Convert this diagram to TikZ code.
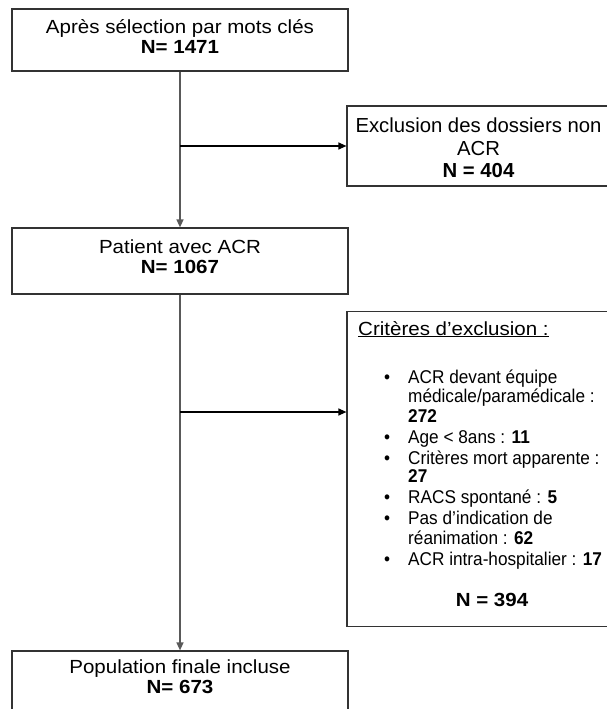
\documentclass[tikz,border=0pt]{standalone}
\usepackage{fontspec}
\setmainfont{Liberation Sans}[FakeStretch=1.08]
\newfontfamily\plainsans{Liberation Sans}
\newfontfamily\narrowsans{Liberation Sans}[FakeStretch=0.93]
\usetikzlibrary{arrows.meta}
\begin{document}
\begin{tikzpicture}[x=1pt,y=-1pt,
  box/.style={draw=black!80, line width=1.2pt, rectangle, inner sep=0pt},
  txt/.style={align=center, inner sep=0pt, font=\fontsize{19}{20}\selectfont},
  bigtxt/.style={align=center, inner sep=0pt, font=\plainsans\fontsize{20.3}{22.7}\selectfont},
  head/.style={anchor=base west, inner sep=0pt, font=\fontsize{19}{20}\selectfont},
  item/.style={anchor=base west, inner sep=0pt, font=\narrowsans\fontsize{18.5}{20}\selectfont},
  trunk/.style={draw=black!65, line width=1.4pt},
  branch/.style={draw=black, line width=1.2pt},
  tip/.style={-{Triangle[length=8pt,width=7pt]}}]
\useasboundingbox (0,0) rectangle (607,709);

% main column
\node[box, minimum width=336pt, minimum height=62pt] (b1) at (180,40) {};
\node[txt] (t1) at (180,37) {Après sélection par mots clés\\\textbf{N= 1471}};
\node[box, minimum width=336pt, minimum height=66pt] (b2) at (180,261) {};
\node[txt] (t2) at (180,256.5) {Patient avec ACR\\\textbf{N= 1067}};
\node[box, minimum width=336pt, minimum height=70pt] (b3) at (180,686) {};
\node[txt] (t3) at (180,677) {Population finale incluse\\\textbf{N= 673}};

% exclusion boxes
\node[box, minimum width=266pt, minimum height=80pt] (e1) at (480,146) {};
\node[bigtxt] (te1) at (478.5,148) {Exclusion des dossiers non\\ACR\\\textbf{N = 404}};
\node[box, minimum width=266pt, minimum height=315pt] (e2) at (480,469) {};
\node[head] (h) at (358,335) {\underline{Critères d’exclusion :}};

\foreach \n/\y in {1/383,4/443,5/464,7/503,8/524,10/565}
  \node[item] (bul\n) at (384,\y) {•};
\node[item] (i1) at (408,383) {ACR devant équipe};
\node[item] (i2) at (408,402.5) {médicale/paramédicale :};
\node[item] (i3) at (408,422) {\textbf{272}};
\node[item] (i4) at (408,443) {Age < 8ans : \textbf{11}};
\node[item] (i5) at (408,464) {Critères mort apparente :};
\node[item] (i6) at (408,482) {\textbf{27}};
\node[item] (i7) at (408,503) {RACS spontané : \textbf{5}};
\node[item] (i8) at (408,524) {Pas d’indication de};
\node[item] (i9) at (408,544) {réanimation : \textbf{62}};
\node[item] (i10) at (408,565) {ACR intra-hospitalier : \textbf{17}};
\node[txt] (n394) at (492,600) {\textbf{N = 394}};

% connectors
\coordinate (j1) at (b1.south |- e1.west);
\coordinate (j2) at (b2.south |- 0,412);
\draw[trunk, tip] (b1.south) -- (b2.north);
\draw[trunk, tip] (b2.south) -- (b3.north);
\draw[branch, tip] (j1) -- (e1.west);
\draw[branch, tip] (j2) -- (j2 -| e2.west);
\end{tikzpicture}
\end{document}
